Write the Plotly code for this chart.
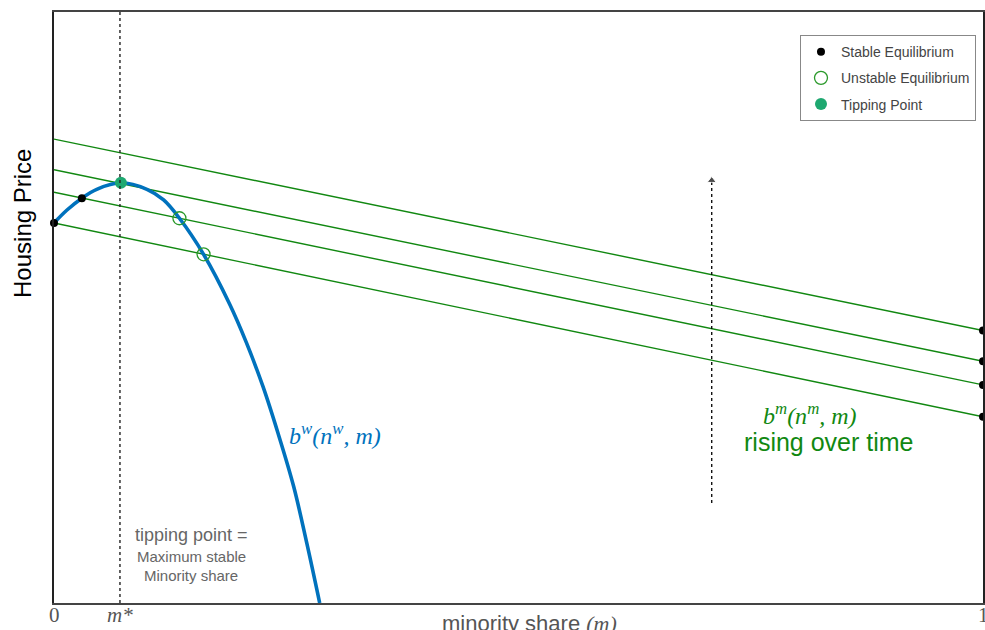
import plotly.graph_objects as go

# ---- data ----
bw_x = [0.0, 0.014, 0.030, 0.046, 0.072, 0.100, 0.118, 0.135, 0.161, 0.189, 0.207, 0.225, 0.241, 0.258, 0.272, 0.286]
bw_y = [0.643, 0.665, 0.685, 0.700, 0.711, 0.700, 0.682, 0.651, 0.590, 0.506, 0.441, 0.366, 0.288, 0.197, 0.102, 0.0]

bm_x = [0.0, 1.0]
bm_left = [0.785, 0.733, 0.695, 0.643]
bm_right = [0.461, 0.409, 0.369, 0.315]

stable_x = [0.0, 0.030, 1.0, 1.0, 1.0, 1.0]
stable_y = [0.643, 0.685, 0.461, 0.409, 0.369, 0.315]
unstable_x = [0.135, 0.161]
unstable_y = [0.651, 0.590]
tipping_x = [0.072]
tipping_y = [0.711]

m_star = 0.071
arrow_x = [0.708, 0.708]
arrow_y = [0.169, 0.715]

tick_vals = [0.0, m_star, 1.0]
tick_text = ["0", "<i>m*</i>", "1"]

BLUE = "#0072BD"
GREEN = "#118811"
SERIF = "Liberation Serif, Times New Roman, serif"
SANS = "Liberation Sans, Arial, Helvetica, sans-serif"

fig = go.Figure()

# green b^m lines
for l, r in zip(bm_left, bm_right):
    fig.add_trace(go.Scatter(x=bm_x, y=[l, r], mode="lines",
                             line=dict(color=GREEN, width=1.4),
                             showlegend=False, hoverinfo="skip"))

# blue b^w curve
fig.add_trace(go.Scatter(x=bw_x, y=bw_y, mode="lines",
                         line=dict(color=BLUE, width=3.6, shape="spline", smoothing=1.0),
                         showlegend=False, hoverinfo="skip"))

# arrow (dotted with head)
fig.add_trace(go.Scatter(x=arrow_x, y=arrow_y, mode="lines+markers",
                         line=dict(color="black", width=1.3, dash="dot"),
                         marker=dict(symbol="triangle-up", size=[0, 8], color="black"),
                         showlegend=False, hoverinfo="skip"))

# equilibria
fig.add_trace(go.Scatter(x=stable_x, y=stable_y, mode="markers", name="Stable Equilibrium",
                         marker=dict(color="black", size=8), cliponaxis=False,
                         legendgroup="a"))
fig.add_trace(go.Scatter(x=unstable_x, y=unstable_y, mode="markers", name="Unstable Equilibrium",
                         marker=dict(color="rgba(0,0,0,0)", size=13,
                                     line=dict(color="#2a992a", width=1.3)),
                         legendgroup="b"))
fig.add_trace(go.Scatter(x=tipping_x, y=tipping_y, mode="markers", name="Tipping Point",
                         marker=dict(color="#1ea870", size=12), legendgroup="c"))

# vertical dotted line at m*
fig.add_shape(type="line", x0=m_star, x1=m_star, y0=0, y1=1, xref="x", yref="paper",
              line=dict(color="#222", width=1.4, dash="dot"))

ann = [
    dict(x=0.148, y=0.115, text="tipping point =", font=dict(size=18, color="#666", family=SANS)),
    dict(x=0.148, y=0.0795, text="Maximum stable", font=dict(size=15, color="#666", family=SANS)),
    dict(x=0.148, y=0.0457, text="Minority share", font=dict(size=15, color="#666", family=SANS)),
    dict(x=0.302, y=0.286, text="<i>b<sup>w</sup>(n<sup>w</sup>, m)</i>",
         font=dict(size=24, color=BLUE, family=SERIF)),
    dict(x=0.814, y=0.320, text="<i>b<sup>m</sup>(n<sup>m</sup>, m)</i>",
         font=dict(size=24, color=GREEN, family=SERIF)),
    dict(x=0.834, y=0.272, text="rising over time", font=dict(size=25, color=GREEN, family=SANS)),
]
for a in ann:
    fig.add_annotation(xref="x", yref="y", showarrow=False, **a)

# tick labels (placed close to the axis as in the reference)
for v, t in zip(tick_vals, tick_text):
    fig.add_annotation(xref="x", yref="paper", x=v, y=-0.0205, text=t, showarrow=False,
                       yanchor="middle", font=dict(size=21, color="#555", family=SERIF))

# axis titles
fig.add_annotation(xref="paper", yref="paper", x=0.512, y=-0.034, showarrow=False,
                   text="minority share <span style='font-family:Liberation Serif'><i>(m)</i></span>",
                   font=dict(size=22, color="#555", family=SANS), yanchor="middle")
fig.add_annotation(xref="paper", yref="paper", x=-0.0334, y=0.643, showarrow=False,
                   text="Housing Price", textangle=-90,
                   font=dict(size=24, color="black", family=SANS), xanchor="center", yanchor="middle")

fig.update_layout(
    width=985, height=630,
    margin=dict(l=54, r=2, t=12, b=27, autoexpand=False),
    paper_bgcolor="white", plot_bgcolor="white",
    showlegend=True,
    legend=dict(x=0.803, y=0.961, xanchor="left", yanchor="top",
                bordercolor="#888", borderwidth=1, bgcolor="white",
                font=dict(size=14, color="#444", family=SANS),
                tracegroupgap=5, itemwidth=30),
)
fig.update_xaxes(range=[0, 1], showgrid=False, zeroline=False,
                 showline=True, linecolor="#444", linewidth=1.5, mirror=True,
                 showticklabels=False, ticks="", automargin=False)
fig.update_yaxes(range=[0, 1], showgrid=False, zeroline=False,
                 showline=True, linecolor="#222", linewidth=1.5, mirror=True,
                 showticklabels=False, ticks="", automargin=False)

# remove the page's default body margin so the figure sits at the window's corner
fig.write_html("out.html", config={"displayModeBar": False},
               post_script="document.body.style.margin='0';document.body.style.overflow='hidden';")
